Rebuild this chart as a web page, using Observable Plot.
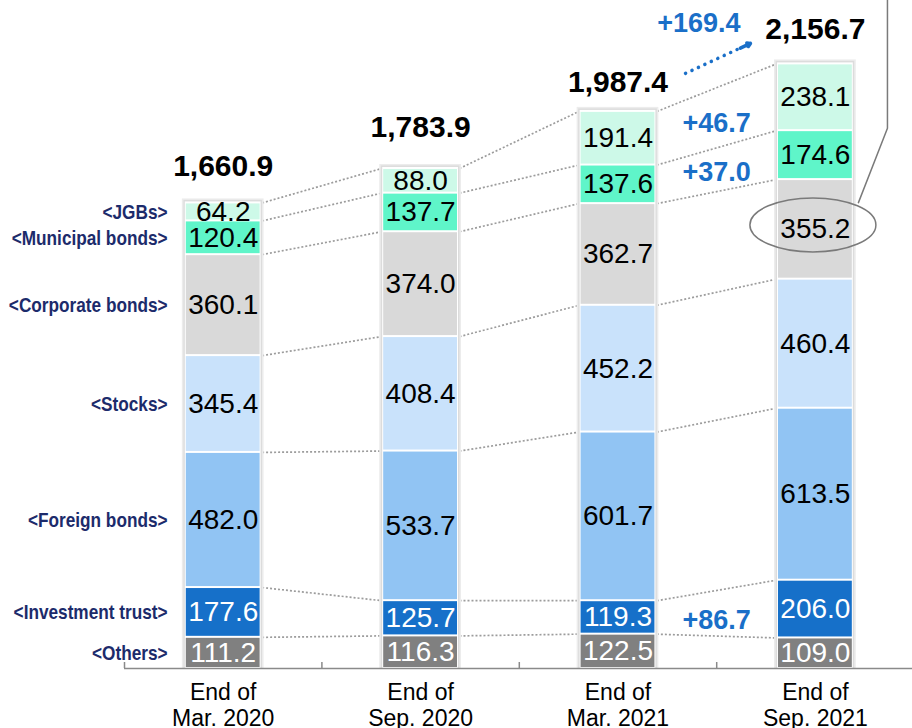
<!DOCTYPE html>
<html><head><meta charset="utf-8">
<script src="https://cdn.jsdelivr.net/npm/d3@7"></script>
<script src="https://cdn.jsdelivr.net/npm/@observablehq/plot@0.6"></script>
<style>
body{margin:0;background:#fff;}
#chart{width:912px;height:728px;overflow:hidden}
</style></head><body><div id="chart"></div>
<script>
// ---- data ----
const periods = ["Mar. 2020", "Sep. 2020", "Mar. 2021", "Sep. 2021"];
const series = ["Others", "Investment trust", "Foreign bonds", "Stocks", "Corporate bonds", "Municipal bonds", "JGBs"];
const others = [111.2, 116.3, 122.5, 109.0];
const investmentTrust = [177.6, 125.7, 119.3, 206.0];
const foreignBonds = [482.0, 533.7, 601.7, 613.5];
const stocks = [345.4, 408.4, 452.2, 460.4];
const corporateBonds = [360.1, 374.0, 362.7, 355.2];
const municipalBonds = [120.4, 137.7, 137.6, 174.6];
const jgbs = [64.2, 88.0, 191.4, 238.1];
const totals = [1660.9, 1783.9, 1987.4, 2156.7];
const changeLabels = ["+169.4", "+46.7", "+37.0", "+86.7"];

// ---- styles ----
const colors = ["#808080", "#1670c9", "#91c4f3", "#c9e2fb", "#d9d9d9", "#5ff5c9", "#cdf9e8"];
const whiteText = new Set(["Others", "Investment trust"]);
const blue = "#1a6fc8";
const navy = "#1c2b6b";

const valuesBySeries = [others, investmentTrust, foreignBonds, stocks, corporateBonds, municipalBonds, jgbs];
const segs = [];
periods.forEach((p, i) => {
  let acc = 0;
  series.forEach((s, k) => {
    const v = valuesBySeries[k][i];
    segs.push({i, series: s, value: v, y0: acc, y1: acc + v});
    acc += v;
  });
});
const tops = i => segs.filter(d => d.i === i).map(d => d.y1);
const stackTop = i => tops(i)[tops(i).length - 1];
const conns = [];
for (let i = 0; i < periods.length - 1; i++) {
  const a = tops(i), b = tops(i + 1);
  a.forEach((v, k) => conns.push({i, a: v, b: b[k]}));
}
const barRows = periods.map((p, i) => ({i, top: stackTop(i)}));

const half = 0.187;
const xA = -1.1282, xB = 3.4919, yMax = 2383;
const u = 2383 / 668; // data units per pixel

const changePos = [
  {x: 2.41, y: 2300}, {x: 2.5, y: 1944}, {x: 2.5, y: 1770}, {x: 2.5, y: 171}
];
const totalLift = [37, 41, 29, 35];

const plot = Plot.plot({
  width: 912, height: 728,
  marginTop: 0, marginBottom: 60, marginLeft: 0, marginRight: 0,
  x: {type: "linear", domain: [xA, xB], axis: null},
  y: {domain: [0, yMax], axis: null},
  color: {domain: series, range: colors},
  style: {fontFamily: "'Liberation Sans', Arial, sans-serif", background: "white", overflow: "visible"},
  marks: [
    // connectors
    Plot.link(conns, {x1: d => d.i + half + 0.01, y1: "a", x2: d => d.i + 1 - half - 0.01, y2: "b",
      stroke: "#9c9c9c", strokeWidth: 1.7, strokeDasharray: "2,2"}),
    // shadows
    Plot.rectY(barRows, {x1: d => d.i - half - 0.02, x2: d => d.i + half + 0.02, y1: 0, y2: d => d.top + 4 * u, fill: "#ececec"}),
    Plot.rectY(barRows, {x1: d => d.i - half - 0.012, x2: d => d.i + half + 0.012, y1: 0, y2: d => d.top + 2.5 * u, fill: "#dcdcdc"}),
    Plot.rectY(barRows, {x1: d => d.i - half - 0.005, x2: d => d.i + half + 0.005, y1: 0, y2: d => d.top + 1 * u, fill: "white"}),
    // segments
    Plot.rectY(segs, {x1: d => d.i - half, x2: d => d.i + half, y1: "y0", y2: "y1", fill: "series", insetTop: 1, insetBottom: 1}),
    // segment values
    Plot.text(segs.filter(d => !whiteText.has(d.series)), {x: "i", y: d => (d.y0 + d.y1) / 2, text: d => d.value.toFixed(1), fill: "black", fontSize: 28}),
    Plot.text(segs.filter(d => whiteText.has(d.series)), {x: "i", y: d => (d.y0 + d.y1) / 2, text: d => d.value.toFixed(1), fill: "white", fontSize: 28}),
    // totals
    ...totals.map((t, i) => Plot.text([t], {x: () => i, y: () => stackTop(i), text: d => d3.format(",.1f")(d), dy: -totalLift[i], fontSize: 30, fontWeight: "bold", fill: "black"})),
    // left category labels
    Plot.text(segs.filter(d => d.i === 0), {x: -0.282, y: d => (d.y0 + d.y1) / 2, text: d => `<${d.series}>`, textAnchor: "end",
      fontSize: 21, fontWeight: "bold", fill: navy}),
    // axis
    Plot.ruleY([0], {x1: -0.5, x2: xB, stroke: "#8a8a8a", strokeWidth: 1.5}),
    Plot.ruleX([-0.5, 0.5, 1.5, 2.5], {y1: 0, y2: 6 * u, stroke: "#8a8a8a", strokeWidth: 1.5}),
    Plot.text(periods, {x: (d, i) => i, y: 0, text: d => "End of\n" + d, lineAnchor: "top", dy: 13, fontSize: 23, lineHeight: 1.13, fill: "black"}),
    // change annotations
    Plot.text(changeLabels, {x: (d, i) => changePos[i].x, y: (d, i) => changePos[i].y, text: d => d, fill: blue, fontSize: 27, fontWeight: "bold"}),
    Plot.link([0], {x1: 2.342, y1: 2123, x2: 2.615, y2: 2212, stroke: blue, strokeWidth: 3.5, strokeDasharray: "0.1,7", strokeLinecap: "round"}),
    Plot.arrow([0], {x1: 2.62, y1: 2213, x2: 2.671, y2: 2230, stroke: blue, strokeWidth: 3.5, headLength: 20, bend: 0}),
    // callout line from ellipse
    Plot.line([{x: 3.218, y: 1662}, {x: 3.365, y: 1927}, {x: 3.365, y: yMax + 10}], {x: "x", y: "y", stroke: "#7a7a7a", strokeWidth: 1.5})
  ]
});

// condense the left-hand category labels (narrow bold face in the original)
d3.select(plot).selectAll("text").each(function () {
  if (!this.textContent.startsWith("<")) return;
  const t = this.getAttribute("transform");
  if (t) {
    this.setAttribute("transform", t + " scale(0.82,1)");
  } else {
    const x = +this.getAttribute("x") || 0, y = +this.getAttribute("y") || 0;
    this.setAttribute("transform", `translate(${x},${y}) scale(0.82,1) translate(${-x},${-y})`);
  }
});

// ellipse highlight around Sep. 2021 corporate bonds
const sx = plot.scale("x"), sy = plot.scale("y");
const corp = segs.find(d => d.i === 3 && d.series === "Corporate bonds");
d3.select(plot).append("ellipse")
  .attr("cx", sx.apply(3) - 2)
  .attr("cy", sy.apply((corp.y0 + corp.y1) / 2) - 4)
  .attr("rx", 63).attr("ry", 27)
  .attr("fill", "none").attr("stroke", "#7a7a7a").attr("stroke-width", 1.5);

document.getElementById("chart").appendChild(plot);
</script></body></html>
